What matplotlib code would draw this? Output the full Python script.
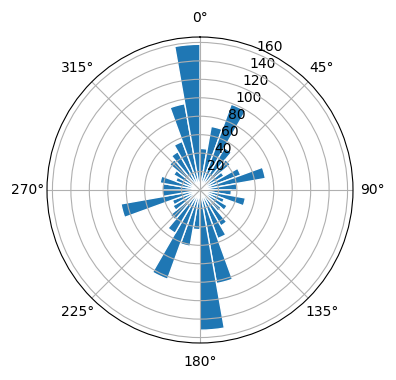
import numpy as np
import matplotlib
matplotlib.use("Agg")
import matplotlib.pyplot as plt

# bin start angles in degrees (10-degree sectors)
sector_start_deg = list(range(0, 360, 10))
counts = [45, 70, 99, 53, 43, 30, 47, 72, 40,
          34, 50, 28, 34, 30, 45, 56, 103, 152,
          43, 62, 103, 54, 42, 34, 32, 87, 41,
          41, 44, 28, 33, 43, 48, 56, 95, 158]

fig = plt.figure(figsize=(3.96, 3.80), dpi=100)
W, H = 396, 380
cx, cy, R = 200, 190, 153
ax = fig.add_axes([(cx - R) / W, (H - cy - R) / H, 2 * R / W, 2 * R / H],
                  projection="polar")
ax.set_theta_zero_location("N")
ax.set_theta_direction(-1)

theta = np.deg2rad(sector_start_deg)
ax.bar(theta, counts, width=np.deg2rad(10), align="edge",
       color="C0", edgecolor="white", linewidth=1)
ax.set_rticks([20, 40, 60, 80, 100, 120, 140, 160])

fig.savefig("out.png", dpi=100)
